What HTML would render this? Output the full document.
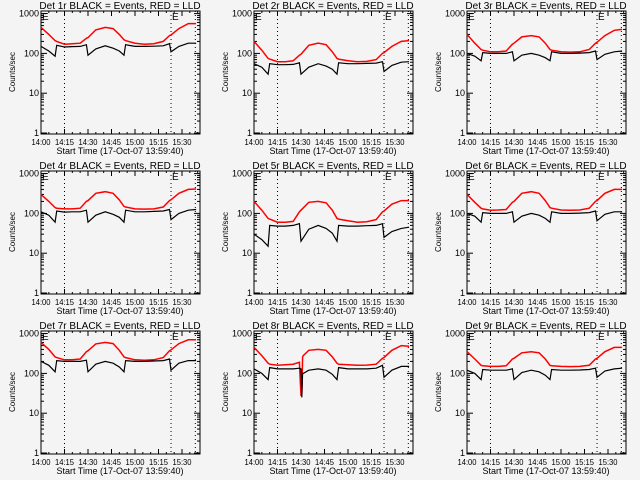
<!DOCTYPE html>
<html><head><meta charset="utf-8"><style>
html,body{margin:0;padding:0;background:#f4f4f4}
svg{display:block;font-family:"Liberation Sans",sans-serif}
</style></head><body>
<svg id="c" width="640" height="480"></svg>
<script>
const panelTitles = ["Det 1r","Det 2r","Det 3r","Det 4r","Det 5r","Det 6r","Det 7r","Det 8r","Det 9r"];
const xTickLabels = ["14:00","14:15","14:30","14:45","15:00","15:15","15:30"];
const xTickMinutes = [0,15,30,45,60,75,90];
const yTickValues = [1,10,100,1000];
const yTickLabels = ["1","10","100","1000"];
const dottedMinutes = [15,83,98.5];
const eventMarkerMinutes = [0,83];
const tCommon = [0,5,9,10,15,20,25,29,30,35,41,46,50,53,54,60,66,72,78,82,83,88,94,99];
const t8 = [0,5,9,10,15,20,25,29,30,30.5,31,31.5,35,41,46,50,53,54,60,66,72,78,82,83,88,94,99];
const red1 = [450,300,210,200,170,175,180,240,250,390,450,420,300,220,210,180,170,175,200,280,290,420,560,560];
const black1 = [150,115,85,160,145,148,150,165,90,130,155,135,115,90,165,150,150,152,155,175,110,150,180,180];
const red2 = [200,120,75,72,62,62,65,90,95,160,180,165,110,75,72,65,62,63,70,100,105,150,200,210];
const black2 = [55,45,30,55,52,52,53,58,30,45,55,48,40,30,58,55,55,56,57,62,35,50,60,62];
const red3 = [300,180,125,120,110,110,115,170,180,260,280,260,180,125,120,110,108,110,125,180,190,280,380,400];
const black3 = [100,85,65,105,100,100,100,110,65,90,100,90,78,65,110,100,100,102,105,115,70,95,110,115];
const red4 = [300,200,140,135,130,130,135,200,210,320,350,320,220,150,145,130,128,130,145,210,220,320,400,410];
const black4 = [110,90,60,115,108,110,110,120,60,90,110,95,80,60,120,110,110,112,115,125,70,100,120,125];
const red5 = [200,120,75,72,60,60,63,110,120,190,200,185,120,75,72,65,60,62,70,110,115,170,210,210];
const black5 = [30,22,15,50,48,48,50,55,20,40,50,42,32,20,50,48,48,49,50,55,25,35,42,45];
const red6 = [300,190,135,130,120,122,125,190,200,320,350,320,210,140,135,122,120,122,135,200,210,320,400,400];
const black6 = [100,85,60,105,100,100,100,110,60,85,100,90,75,60,110,100,100,102,105,115,65,95,110,110];
const red7 = [600,400,260,250,220,220,230,350,370,550,600,560,380,260,250,220,215,220,250,370,390,560,700,700];
const black7 = [200,160,110,210,200,200,200,215,110,170,200,180,145,110,210,200,200,205,210,230,120,180,210,210];
const red8 = [450,280,180,170,160,165,170,190,27,30,260,280,380,400,380,260,180,170,165,160,162,170,240,250,380,500,480];
const black8 = [130,100,70,140,130,130,130,135,130,25,100,100,120,130,120,95,70,140,130,130,130,135,160,80,120,150,150];
const red9 = [350,230,160,155,150,150,155,230,240,330,350,330,230,160,155,150,148,150,160,230,240,350,450,450];
const black9 = [120,100,70,125,120,120,120,130,70,105,120,110,90,70,125,120,120,122,125,135,80,115,130,135];
const times = [tCommon,tCommon,tCommon,tCommon,tCommon,tCommon,tCommon,t8,tCommon];
const reds = [red1,red2,red3,red4,red5,red6,red7,red8,red9];
const blacks = [black1,black2,black3,black4,black5,black6,black7,black8,black9];

const NS="http://www.w3.org/2000/svg";
const svg=document.getElementById('c');
function mk(tag,attrs,parent){const e=document.createElementNS(NS,tag);for(const k in attrs)e.setAttribute(k,attrs[k]);(parent||svg).appendChild(e);return e;}
const BL=41,BT=11,BR=200,BB=134;
const X0=41,PXMIN=141/90;
function xs(m){return X0+m*PXMIN;}
function ys(v){return 133-(Math.log10(v))*39.8;}

for(let p=0;p<9;p++){
  const ox=(p%3)*213, oy=Math.floor(p/3)*160;
  const g=mk('g',{transform:`translate(${ox},${oy})`});
  
  
  const title=mk('text',{x:120,y:9,'font-size':10,'text-anchor':'middle',fill:'#000'},g);
  title.textContent=panelTitles[p]+" BLACK = Events, RED = LLD";
  
  
  const box=mk('rect',{x:BL,y:BT,width:BR-BL,height:BB-BT,fill:'none',stroke:'#000','stroke-width':1},g);
  
  
  dottedMinutes.forEach(m=>{
    const l=mk('line',{x1:xs(m),x2:xs(m),y1:BT,y2:BB,stroke:'#000','stroke-dasharray':'1,3'},g);
    
    
  });
  eventMarkerMinutes.forEach(m=>{
    const e=mk('text',{x:xs(m)+1,y:BT+9,'font-size':10,fill:'#000'},g);
    e.textContent='E';
    
    
  });
  xTickMinutes.forEach((m,i)=>{
    const x=xs(m);
    mk('line',{x1:x,x2:x,y1:BB,y2:BB-5,stroke:'#000'},g);
    mk('line',{x1:x,x2:x,y1:BT,y2:BT+5,stroke:'#000'},g);
    const t=mk('text',{x:x,y:145,'font-size':8,'text-anchor':'middle',fill:'#000',textLength:19,lengthAdjust:'spacingAndGlyphs'},g);
    t.textContent=xTickLabels[i];
    
    
  });
  for(let m=5;m<102;m+=5){if(m%15&&xs(m)<BR){mk('line',{x1:xs(m),x2:xs(m),y1:BB,y2:BB-2,stroke:'#000'},g);mk('line',{x1:xs(m),x2:xs(m),y1:BT,y2:BT+2,stroke:'#000'},g);}}
  yTickValues.forEach((v,i)=>{
    const y=ys(v);
    mk('line',{x1:BL,x2:BL+6,y1:y,y2:y,stroke:'#000'},g);
    mk('line',{x1:BR,x2:BR-6,y1:y,y2:y,stroke:'#000'},g);
    const t=mk('text',{x:BL-2,y:y+3,'font-size':9,'text-anchor':'end',fill:'#000'},g);
    t.textContent=yTickLabels[i];
    
    
    if(v<1000)for(let k=2;k<10;k++){const yy=ys(v*k);mk('line',{x1:BL,x2:BL+3,y1:yy,y2:yy,stroke:'#000'},g);mk('line',{x1:BR,x2:BR-3,y1:yy,y2:yy,stroke:'#000'},g);}
  });
  const xt=mk('text',{x:120,y:154,'font-size':9,'text-anchor':'middle',fill:'#000'},g);
  xt.textContent="Start Time (17-Oct-07 13:59:40)";
  
  
  const yt=mk('text',{x:0,y:0,'font-size':8,'text-anchor':'middle',fill:'#000',transform:'translate(15,72) rotate(-90)'},g);
  yt.textContent="Counts/sec";
  
  
  const tt=times[p];
  const rp=mk('polyline',{points:tt.map((m,i)=>xs(m).toFixed(1)+','+ys(reds[p][i]).toFixed(1)).join(' '),fill:'none',stroke:'#ff0000','stroke-width':1.5},g);
  
  
  const bp=mk('polyline',{points:tt.map((m,i)=>xs(m).toFixed(1)+','+ys(blacks[p][i]).toFixed(1)).join(' '),fill:'none',stroke:'#000','stroke-width':1.2},g);
  
  
}
</script>
</body></html>
